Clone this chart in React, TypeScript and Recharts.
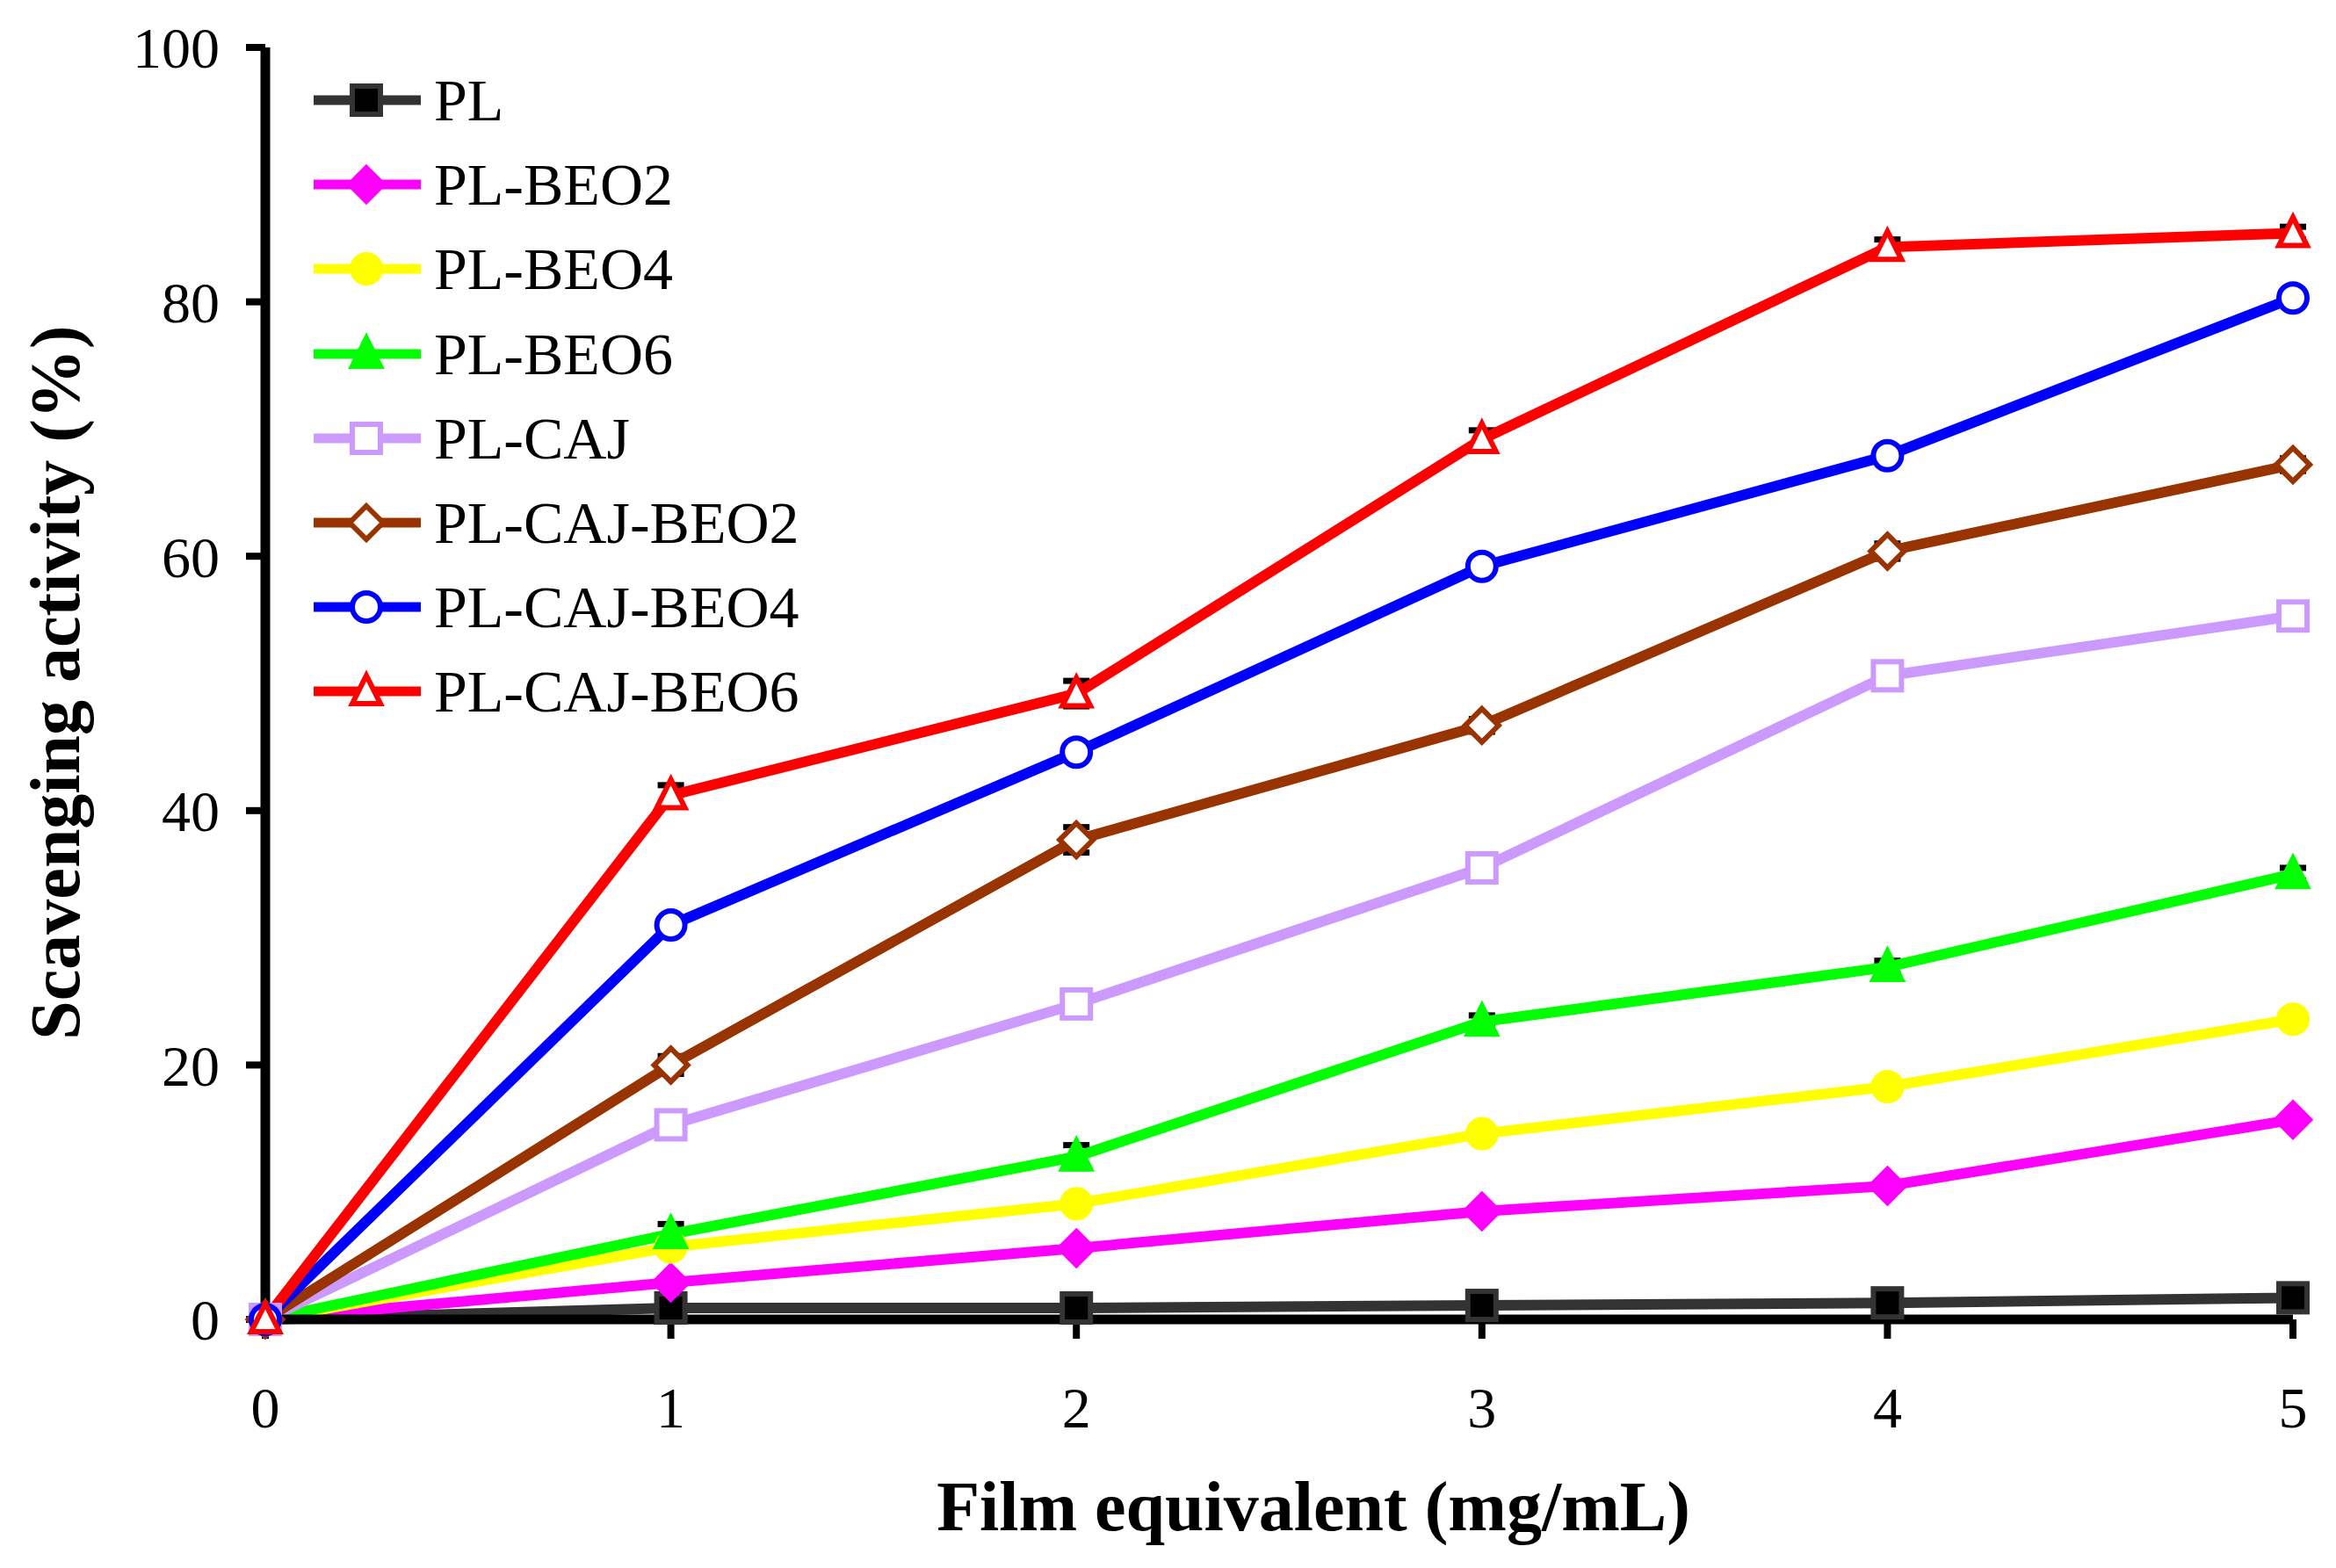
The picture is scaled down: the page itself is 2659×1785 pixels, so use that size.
import React from 'react';
import { LineChart, Line, XAxis, YAxis, ErrorBar } from 'recharts';

const FONT = '"Liberation Serif", "Times New Roman", serif';

// x values (film equivalent, mg/mL)
const X_VALUES = [0, 1, 2, 3, 4, 5];
const X_TICKS = [0, 1, 2, 3, 4, 5];
const Y_TICKS = [0, 20, 40, 60, 80, 100];

// scavenging activity (%) per film
const PL = [0, 0.9, 0.9, 1.1, 1.3, 1.7];
const PL_BEO2 = [0, 2.9, 5.6, 8.5, 10.5, 15.7];
const PL_BEO4 = [0, 5.7, 9.1, 14.6, 18.3, 23.6];
const PL_BEO6 = [0, 6.7, 12.8, 23.4, 27.7, 35.0];
const PL_CAJ = [0, 15.3, 24.8, 35.5, 50.6, 55.3];
const PL_CAJ_BEO2 = [0, 20.0, 37.7, 46.7, 60.4, 67.2];
const PL_CAJ_BEO4 = [0, 31.0, 44.6, 59.2, 67.9, 80.3];
const PL_CAJ_BEO6 = [0, 41.2, 49.2, 69.2, 84.3, 85.4];

// standard deviations (small, mostly hidden behind markers)
const PL_ERR = [0, 0.3, 0.3, 0.3, 0.3, 0.3];
const PL_BEO2_ERR = [0, 0.3, 0.3, 0.3, 0.3, 0.3];
const PL_BEO4_ERR = [0, 0.4, 0.3, 0.3, 0.3, 0.3];
const PL_BEO6_ERR = [0, 0.8, 0.9, 0.5, 0.5, 0.5];
const PL_CAJ_ERR = [0, 0.4, 0.4, 0.4, 0.4, 0.4];
const PL_CAJ_BEO2_ERR = [0, 0.7, 1.0, 0.5, 0.6, 0.5];
const PL_CAJ_BEO4_ERR = [0, 0.5, 0.5, 0.5, 0.5, 0.5];
const PL_CAJ_BEO6_ERR = [0, 0.8, 1.0, 0.7, 0.6, 0.5];

type Shape = 'square' | 'diamond' | 'circle' | 'triangle';

const SERIES = [
  { key: 'PL', name: 'PL', values: PL, err: PL_ERR, color: '#333333', fill: '#000000', shape: 'square' as Shape },
  { key: 'PL-BEO2', name: 'PL-BEO2', values: PL_BEO2, err: PL_BEO2_ERR, color: '#FF00FF', fill: '#FF00FF', shape: 'diamond' as Shape },
  { key: 'PL-BEO4', name: 'PL-BEO4', values: PL_BEO4, err: PL_BEO4_ERR, color: '#FFFF00', fill: '#FFFF00', shape: 'circle' as Shape },
  { key: 'PL-BEO6', name: 'PL-BEO6', values: PL_BEO6, err: PL_BEO6_ERR, color: '#00FF00', fill: '#00FF00', shape: 'triangle' as Shape },
  { key: 'PL-CAJ', name: 'PL-CAJ', values: PL_CAJ, err: PL_CAJ_ERR, color: '#CC99FF', fill: '#FFFFFF', shape: 'square' as Shape },
  { key: 'PL-CAJ-BEO2', name: 'PL-CAJ-BEO2', values: PL_CAJ_BEO2, err: PL_CAJ_BEO2_ERR, color: '#993300', fill: '#FFFFFF', shape: 'diamond' as Shape },
  { key: 'PL-CAJ-BEO4', name: 'PL-CAJ-BEO4', values: PL_CAJ_BEO4, err: PL_CAJ_BEO4_ERR, color: '#0000FF', fill: '#FFFFFF', shape: 'circle' as Shape },
  { key: 'PL-CAJ-BEO6', name: 'PL-CAJ-BEO6', values: PL_CAJ_BEO6, err: PL_CAJ_BEO6_ERR, color: '#FF0000', fill: '#FFFFFF', shape: 'triangle' as Shape },
];

const data = X_VALUES.map((x, i) => {
  const row: Record<string, number> = { x };
  SERIES.forEach((s) => {
    row[s.key] = s.values[i];
    row[s.key + '_err'] = s.err[i];
  });
  return row;
});

const Marker = ({ cx, cy, shape, color, fill }: { cx: number; cy: number; shape: Shape; color: string; fill: string }) => {
  const sw = 6;
  if (shape === 'square') {
    const h = 16;
    return <rect x={cx - h} y={cy - h} width={h * 2} height={h * 2} fill={fill} stroke={color} strokeWidth={sw} />;
  }
  if (shape === 'diamond') {
    const h = 19;
    return (
      <polygon
        points={`${cx},${cy - h} ${cx + h},${cy} ${cx},${cy + h} ${cx - h},${cy}`}
        fill={fill}
        stroke={color}
        strokeWidth={sw}
        strokeLinejoin="miter"
      />
    );
  }
  if (shape === 'circle') {
    return <circle cx={cx} cy={cy} r={16} fill={fill} stroke={color} strokeWidth={sw} />;
  }
  const h = 16;
  return (
    <polygon
      points={`${cx},${cy - h - 2} ${cx + h},${cy + h - 2} ${cx - h},${cy + h - 2}`}
      fill={fill}
      stroke={color}
      strokeWidth={sw}
      strokeLinejoin="miter"
    />
  );
};

// legend drawn as an overlay so it does not shrink the plot area
const LegendBox = () => (
  <div style={{ position: 'absolute', left: 357, top: 66, fontFamily: FONT, fontSize: 68, color: '#000' }}>
    {SERIES.map((s) => (
      <div key={s.key} style={{ display: 'flex', alignItems: 'center', height: 96.2 }}>
        <svg width={122} height={96} style={{ display: 'block' }}>
          <line x1={0} y1={48} x2={122} y2={48} stroke={s.color} strokeWidth={11} />
          <Marker cx={60} cy={48} shape={s.shape} color={s.color} fill={s.fill} />
        </svg>
        <span style={{ marginLeft: 15, lineHeight: '96px', whiteSpace: 'nowrap' }}>{s.name}</span>
      </div>
    ))}
  </div>
);

const XTitle = () => (
  <text x={1495} y={1742} textAnchor="middle" fontFamily={FONT} fontSize={80} fontWeight="bold" fill="#000">
    Film equivalent (mg/mL)
  </text>
);

const YTitle = () => (
  <text
    x={0}
    y={0}
    transform="translate(90, 777) rotate(-90)"
    textAnchor="middle"
    fontFamily={FONT}
    fontSize={80}
    fontWeight="bold"
    fill="#000"
  >
    Scavenging activity (%)
  </text>
);

const tickStyle = { fontFamily: FONT, fontSize: 66, fill: '#000' };

export default function App() {
  return (
    <div style={{ position: 'absolute', left: 0, top: 0, width: 2659, height: 1785, background: '#fff' }}>
      <LineChart width={2659} height={1785} data={data} margin={{ top: 54, right: 49, bottom: 0, left: 0 }}>
        <XAxis
          dataKey="x"
          type="number"
          domain={[0, 5]}
          ticks={X_TICKS}
          height={283}
          tick={tickStyle}
          tickSize={22}
          tickMargin={54}
          axisLine={{ stroke: '#000', strokeWidth: 11 }}
          tickLine={{ stroke: '#000', strokeWidth: 8 }}
          label={<XTitle />}
        />
        <XAxis
          xAxisId="top"
          dataKey="x"
          type="number"
          domain={[0, 5]}
          orientation="top"
          height={0}
          tick={false}
          tickLine={false}
          axisLine={{ stroke: '#000', strokeWidth: 11 }}
        />
        <YAxis
          type="number"
          domain={[0, 100]}
          ticks={Y_TICKS}
          width={302}
          tick={tickStyle}
          tickSize={22}
          tickMargin={30}
          axisLine={{ stroke: '#000', strokeWidth: 11 }}
          tickLine={{ stroke: '#000', strokeWidth: 8 }}
          label={<YTitle />}
        />
        <YAxis
          yAxisId="right"
          type="number"
          domain={[0, 100]}
          orientation="right"
          width={0}
          tick={false}
          tickLine={false}
          axisLine={{ stroke: '#000', strokeWidth: 11 }}
        />
        {SERIES.map((s) => (
          <Line
            key={s.key}
            dataKey={s.key}
            name={s.name}
            type="linear"
            stroke={s.color}
            strokeWidth={12}
            isAnimationActive={false}
            dot={(p: any) => <Marker key={`${s.key}-${p.index}`} cx={p.cx} cy={p.cy} shape={s.shape} color={s.color} fill={s.fill} />}
            activeDot={false}
          >
            <ErrorBar dataKey={s.key + '_err'} direction="y" width={15} stroke="#000" strokeWidth={7} isAnimationActive={false} />
          </Line>
        ))}
      </LineChart>
      <LegendBox />
    </div>
  );
}
